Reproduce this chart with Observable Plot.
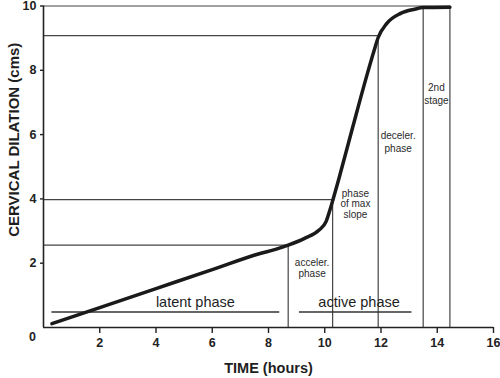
<!DOCTYPE html>
<html><head><meta charset="utf-8">
<script src="https://cdn.jsdelivr.net/npm/d3@7"></script>
<script src="https://cdn.jsdelivr.net/npm/@observablehq/plot@0.6"></script>
<style>
body{margin:0;background:#fff}
svg{display:block}
g[aria-label="small-notes"] text, g[aria-label="small-notes-wide"] text{letter-spacing:1px}
</style></head><body><div id="chart"></div>
<script>
// Labor curve (cervical dilation vs time)
const curveHours    = [0.3, 2, 4, 6, 7.7, 8.25, 8.7, 9.3, 9.8, 10.05, 10.2, 10.3, 10.5, 11.0, 11.5, 11.75, 11.9, 12.2, 12.7, 13.2, 13.5, 14.45];
const curveDilation = [0.12, 0.62, 1.21, 1.8, 2.3, 2.43, 2.56, 2.78, 3.03, 3.3, 3.7, 4.0, 4.62, 6.25, 7.85, 8.6, 9.02, 9.45, 9.77, 9.9, 9.95, 9.96];

// Guide lines
const guideHY  = [10, 9.08, 3.98, 2.56];
const guideHX2 = [14.45, 11.9, 10.28, 8.7];
const guideVX  = [8.7, 10.28, 11.9, 13.5, 14.45];
const guideVY2 = [2.56, 3.98, 9.08, 9.95, 10];

// Phase bars
const phaseNames  = ["latent phase", "active phase"];
const phaseStart  = [0.3, 9.1];
const phaseEnd    = [8.4, 13.1];
const phaseLevel  = [0.48, 0.48];
const phaseLabelX = [5.4, 11.22];
const phaseLabelY = [0.78, 0.79];

// Small annotations
const noteText = ["acceler.\nphase", "phase\nof max\nslope", "deceler.\nphase", "2nd\nstage"];
const noteX    = [9.55, 11.09, 12.61, 13.97];
const noteY    = [1.84, 3.84, 5.79, 7.28];

// Ticks and titles
const xTicks = [2, 4, 6, 8, 10, 12, 14, 16];
const yTicks = [2, 4, 6, 8, 10];
const xTitle = "TIME (hours)";
const yTitle = "CERVICAL DILATION (cms)";
const originLabel = "0";

const curve = curveHours.map((h, i) => ({h, d: curveDilation[i]}));
const hLines = guideHY.map((y, i) => ({y, x1: 0, x2: guideHX2[i]}));
const vLines = guideVX.map((x, i) => ({x, y1: 0, y2: guideVY2[i]}));
const phases = phaseNames.map((n, i) => ({n, x1: phaseStart[i], x2: phaseEnd[i], y: phaseLevel[i], lx: phaseLabelX[i], ly: phaseLabelY[i]}));
const notes = noteText.map((t, i) => ({t, x: noteX[i], y: noteY[i]}));

const font = "'Liberation Sans', Arial, Helvetica, sans-serif";
const ink = "#1e1e1e";

const chart = Plot.plot({
  width: 500,
  height: 378,
  marginLeft: 43,
  marginRight: 7,
  marginTop: 5.5,
  marginBottom: 51,
  style: {fontFamily: font, background: "#fff", color: ink},
  x: {domain: [0, 16]},
  y: {domain: [0, 10]},
  marks: [
    // guide lines
    Plot.ruleY(hLines, {y: "y", x1: "x1", x2: "x2", stroke: "#444", strokeWidth: 1.2}),
    Plot.ruleX(vLines, {x: "x", y1: "y1", y2: "y2", stroke: "#444", strokeWidth: 1.2}),
    // phase bars
    Plot.ruleY(phases, {y: "y", x1: "x1", x2: "x2", stroke: "#333", strokeWidth: 1.5}),
    Plot.text(phases, {x: "lx", y: "ly", text: "n", fontSize: 14.5, fill: ink}),
    // notes
    Plot.text(notes.slice(0, 2), {x: "x", y: "y", text: "t", fontSize: 10, lineHeight: 1.05, fill: "#2a2a2a", ariaLabel: "small-notes"}),
    Plot.text(notes.slice(2), {x: "x", y: "y", text: "t", fontSize: 10, lineHeight: 1.25, fill: "#2a2a2a", ariaLabel: "small-notes-wide"}),
    // curve
    Plot.line(curve, {x: "h", y: "d", curve: "monotone-x", stroke: "#1a1a1a", strokeWidth: 3.5, strokeLinecap: "round"}),
    // axes lines
    Plot.ruleX([0], {y1: 0, y2: 10, stroke: "#222", strokeWidth: 1.6}),
    Plot.ruleY([0], {x1: 0, x2: 16, stroke: "#222", strokeWidth: 1.6}),
    Plot.axisX(xTicks, {tickSize: 6, tickPadding: 5, fontSize: 12.5, fontWeight: "bold", label: null, color: "#222", strokeWidth: 1.4}),
    Plot.axisY(yTicks, {tickSize: 3, tickPadding: 4, fontSize: 12.5, fontWeight: "bold", label: null, color: "#222", strokeWidth: 1.4}),
    Plot.text([originLabel], {frameAnchor: "bottom-left", text: d => d, textAnchor: "middle", lineAnchor: "middle", dx: -11, dy: 9, fontSize: 12.5, fontWeight: "bold", fill: "#222"}),
    Plot.text([xTitle], {frameAnchor: "bottom", text: d => d, textAnchor: "middle", lineAnchor: "middle", dy: 40.5, fontSize: 14.5, fontWeight: "bold", fill: ink}),
    Plot.text([yTitle], {frameAnchor: "left", text: d => d, textAnchor: "middle", lineAnchor: "middle", rotate: -90, dx: -29, dy: -27, fontSize: 15, fontWeight: "bold", fill: ink})
  ]
});
document.getElementById("chart").appendChild(chart);
</script>
</body></html>
